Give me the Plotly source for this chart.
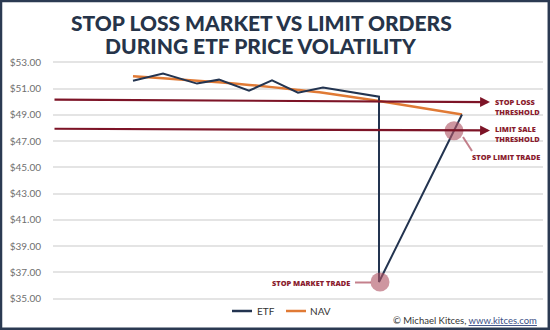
import plotly.graph_objects as go

# ETF market price and NAV through a volatile session (time in arbitrary units)
etf_time = [8.0, 11.0, 14.4, 16.6, 19.6, 21.9, 24.5, 27.0, 32.6, 32.6, 40.9]
etf_price = [51.60, 52.15, 51.38, 51.68, 50.84, 51.62, 50.69, 51.08, 50.38, 36.27, 49.03]

nav_time = [8.0, 11.0, 14.4, 16.6, 19.6, 21.9, 24.5, 27.0, 32.6, 40.9]
nav_price = [51.94, 51.78, 51.60, 51.48, 51.28, 51.11, 50.90, 50.68, 50.05, 49.03]

# Order thresholds (start / end of each arrow)
threshold_time = [0.0, 43.7]
stop_loss_level = [50.16, 49.97]
limit_sale_level = [47.94, 47.81]

# Where each order actually fills
stop_market_fill = (32.7, 36.27)
stop_limit_fill = (40.1, 47.79)

y_ticks = [35, 37, 39, 41, 43, 45, 47, 49, 51, 53]
y_tick_text = [f"${v:.2f}" for v in y_ticks]

title_lines = ["STOP LOSS MARKET VS LIMIT ORDERS", "DURING ETF PRICE VOLATILITY"]

NAVY = "#233450"
ORANGE = "#e07a35"
MAROON = "#7d1427"
LABEL_RED = "#8a1c2e"
FILL_PINK = "rgba(176,86,102,0.62)"
LABEL_FONT = dict(family="Open Sans", size=7.4, color=LABEL_RED, weight=800)

W, H = 550, 330
ML, MR, MT, MB = 53, 7, 61, 30
PW, PH = W - ML - MR, H - MT - MB


def px(x):
    return (x - ML) / PW


def py(y):
    return (H - MB - y) / PH


fig = go.Figure()

fig.add_trace(go.Scatter(x=nav_time, y=nav_price, mode="lines", name="NAV",
                         line=dict(color=ORANGE, width=2.5, shape="spline", smoothing=0.6),
                         showlegend=False))
fig.add_trace(go.Scatter(x=etf_time, y=etf_price, mode="lines", name="ETF",
                         line=dict(color=NAVY, width=2), showlegend=False))

# Fill markers
fig.add_trace(go.Scatter(x=[stop_market_fill[0], stop_limit_fill[0]],
                         y=[stop_market_fill[1], stop_limit_fill[1]],
                         mode="markers", marker=dict(size=19, color=FILL_PINK),
                         showlegend=False, hoverinfo="skip"))

annotations = []
# Title, one annotation per line
for text, ypix in zip(title_lines, [22.5, 45.5]):
    annotations.append(dict(x=px(261), y=py(ypix), xref="paper", yref="paper", text=text,
                            showarrow=False, xanchor="center", yanchor="middle",
                            font=dict(family="Lato", size=21, color="#263449", weight=900)))

# Threshold arrows
for level in (stop_loss_level, limit_sale_level):
    annotations.append(dict(x=threshold_time[1], y=level[1], ax=threshold_time[0], ay=level[0],
                            xref="x", yref="y", axref="x", ayref="y", text="",
                            showarrow=True, arrowhead=2, arrowsize=0.9, arrowwidth=2.2,
                            arrowcolor=MAROON))

# Threshold labels (two-line blocks)
label_x = px(494)
for text, ypix in [("STOP LOSS<br>THRESHOLD", 106.5), ("LIMIT SALE<br>THRESHOLD", 134)]:
    annotations.append(dict(x=label_x, y=py(ypix), xref="paper", yref="paper", text=text,
                            showarrow=False, xanchor="left", yanchor="middle", align="left",
                            font=LABEL_FONT, borderpad=0))

annotations.append(dict(x=px(470), y=py(157), xref="paper", yref="paper",
                        text="STOP LIMIT TRADE", showarrow=False,
                        xanchor="left", yanchor="middle", font=LABEL_FONT))
annotations.append(dict(x=px(352), y=py(283), xref="paper", yref="paper",
                        text="STOP MARKET TRADE", showarrow=False,
                        xanchor="right", yanchor="middle", font=LABEL_FONT))

shapes = [
    # callout connectors
    dict(type="line", xref="paper", yref="paper", x0=px(463), y0=py(137), x1=px(472), y1=py(151),
         line=dict(color="rgba(176,86,102,0.75)", width=2)),
    dict(type="line", xref="paper", yref="paper", x0=px(355), y0=py(282.5), x1=px(371), y1=py(282.5),
         line=dict(color="rgba(176,86,102,0.75)", width=2)),
    # legend swatches
    dict(type="line", xref="paper", yref="paper", x0=px(232), y0=py(311), x1=px(252), y1=py(311),
         line=dict(color=NAVY, width=2.5)),
    dict(type="line", xref="paper", yref="paper", x0=px(286), y0=py(311), x1=px(306), y1=py(311),
         line=dict(color=ORANGE, width=2.5)),
    # outer frame
    dict(type="rect", xref="paper", yref="paper", x0=px(1), y0=py(1), x1=px(548.8), y1=py(328.8),
         line=dict(color="#2b3a52", width=2.5)),
]

annotations += [
    dict(x=px(255), y=py(311), xref="paper", yref="paper", text="ETF", showarrow=False,
         xanchor="left", yanchor="middle", font=dict(family="Lato", size=10, color="#333333")),
    dict(x=px(308), y=py(311), xref="paper", yref="paper", text="NAV", showarrow=False,
         xanchor="left", yanchor="middle", font=dict(family="Lato", size=10, color="#333333")),
    dict(x=px(539), y=py(320), xref="paper", yref="paper",
         text='© Michael Kitces, <span style="color:#3b4f86"><u>www.kitces.com</u></span>',
         showarrow=False, xanchor="right", yanchor="middle",
         font=dict(family="Lato", size=9.5, color="#333333")),
]

fig.update_layout(
    width=W, height=H,
    margin=dict(l=ML, r=MR, t=MT, b=MB),
    paper_bgcolor="white", plot_bgcolor="white",
    xaxis=dict(range=[0, 49], visible=False),
    yaxis=dict(range=[34.9, 53.1], tickvals=y_ticks, ticktext=y_tick_text,
               showgrid=True, gridcolor="#e4e4e4", gridwidth=1.5, zeroline=False,
               showline=False, ticks="", ticklabelstandoff=11,
               tickfont=dict(family="Lato", size=10, color="#6f6f6f")),
    showlegend=False,
    shapes=shapes,
    annotations=annotations,
)

fig.write_html("out.html")
